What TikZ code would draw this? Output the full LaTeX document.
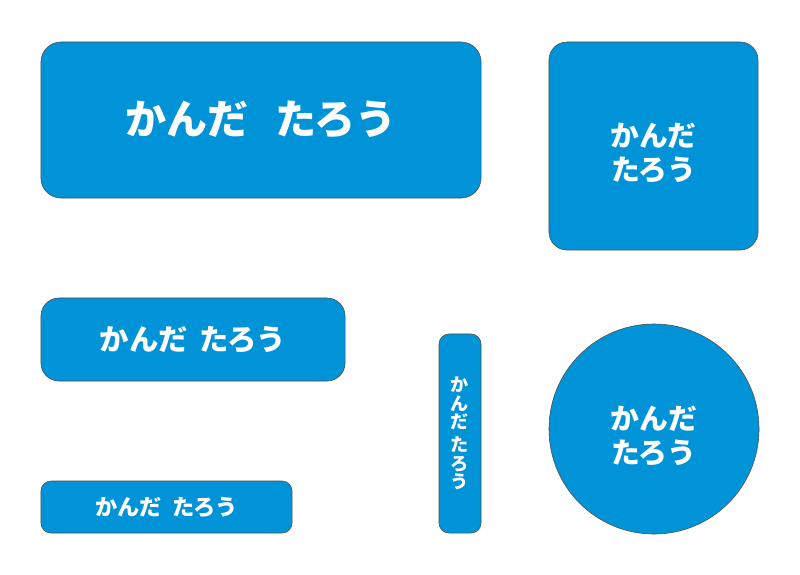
\documentclass[tikz,border=0pt]{standalone}
\usepackage{fontspec}
\newfontfamily\jpfont{Noto Sans CJK JP}
\definecolor{tagblue}{HTML}{0093D7}
\newcommand{\namegap}{\hspace{0.45em}}
\tikzset{
  tag/.style={draw=black!70,line width=0.4pt,fill=tagblue,text=white,
    font=\jpfont\bfseries,inner sep=0pt,align=center},
  tagtext/.style={text=white,inner sep=0pt,align=center,
    font=\jpfont\bfseries\fontsize{20.5}{24.2}\selectfont},
}
\begin{document}
\begin{tikzpicture}[x=0.025cm,y=-0.025cm]
    \useasboundingbox (0,0) rectangle (800,574);

    % name tags
    \node[tag,rounded corners=0.5cm,minimum width=11cm,minimum height=3.9cm,
      font=\jpfont\bfseries\fontsize{29.2}{33}\selectfont] (big) at (261,120)
      {かんだ\hspace{0.65em}たろう};
    \node[tag,rounded corners=0.45cm,minimum width=5.225cm,minimum height=5.2cm] (square) at (653.5,146) {};
    \node[tagtext] (squarename) at ([yshift=-5pt]square.center) {かんだ\\たろう};
    \node[tag,rounded corners=0.45cm,minimum width=7.6cm,minimum height=2.075cm,
      font=\jpfont\bfseries\fontsize{20.9}{24}\selectfont] (medium) at (193,339.5)
      {かんだ\hspace{0.4em}たろう};
    \node[tag,rounded corners=0.25cm,minimum width=6.275cm,minimum height=1.3cm,
      font=\jpfont\bfseries\fontsize{15.8}{18}\selectfont] (small) at (166.5,507)
      {かんだ\namegap たろう};
    \node[tag,rounded corners=0.25cm,minimum width=1.05cm,minimum height=4.975cm,
      font=\jpfont\bfseries\fontsize{12.9}{13.1}\selectfont] (narrow) at (460,433.5)
      {か\\ん\\だ\\[0.25em]た\\ろ\\う};
    \node[tag,circle,minimum size=5.25cm] (round) at (654,429) {};
    \node[tagtext] (roundname) at ([yshift=-5pt]round.center) {かんだ\\たろう};
\end{tikzpicture}
\end{document}
